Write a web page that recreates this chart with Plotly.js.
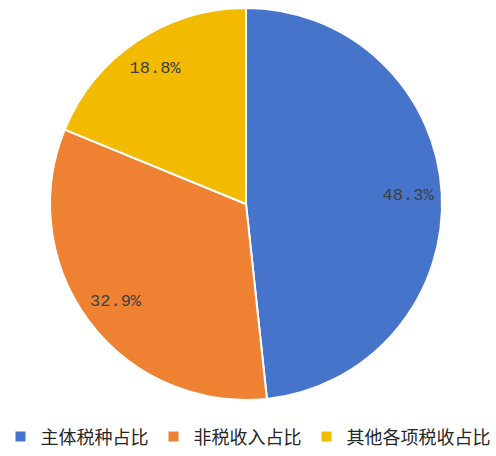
<!DOCTYPE html>
<html>
<head>
<meta charset="utf-8">
<script src="https://cdn.plot.ly/plotly-3.0.1.min.js"></script>
<style>
  html, body { margin: 0; padding: 0; background: #fff; }
  #chart { width: 496px; height: 456px; }
</style>
</head>
<body>
<div id="chart"></div>
<script>
// 税收构成占比 (%)
const categories = ['主体税种占比', '非税收入占比', '其他各项税收占比'];
const shares = [48.3, 32.9, 18.8];
const sliceColors = ['#4674CA', '#EF8232', '#F2BB02'];

const pieDomain = { x: [0, 0.992], y: [0, 1] };

// filled slices, no text
const pieTrace = {
    type: 'pie',
    labels: categories,
    values: shares,
    sort: false,
    direction: 'clockwise',
    rotation: 0,
    domain: pieDomain,
    marker: { colors: sliceColors, line: { color: '#ffffff', width: 2 } },
    textinfo: 'none',
    hoverinfo: 'label+percent'
};

// transparent ring on top, only to put the labels near the rim
const labelTrace = {
    type: 'pie',
    labels: categories,
    values: shares,
    sort: false,
    direction: 'clockwise',
    rotation: 0,
    domain: pieDomain,
    hole: 0.66,
    showlegend: false,
    marker: { colors: ['rgba(0,0,0,0)', 'rgba(0,0,0,0)', 'rgba(0,0,0,0)'], line: { width: 0 } },
    texttemplate: '%{value}%',
    textposition: 'inside',
    insidetextorientation: 'horizontal',
    textfont: { family: 'Liberation Mono, monospace', size: 17, color: '#404040' },
    hoverinfo: 'skip'
};

const layout = {
    width: 496,
    height: 456,
    margin: { l: 0, r: 0, t: 8, b: 56 },
    paper_bgcolor: '#ffffff',
    showlegend: true,
    legend: {
        orientation: 'h',
        x: 0.5,
        xanchor: 'center',
        yref: 'container',
        y: 0.042,
        yanchor: 'middle',
        font: { family: 'Noto Sans CJK SC, sans-serif', size: 18, color: '#262626' },
        itemclick: false
    }
};

Plotly.newPlot('chart', [pieTrace, labelTrace], layout, { displayModeBar: false, staticPlot: true });
</script>
</body>
</html>
